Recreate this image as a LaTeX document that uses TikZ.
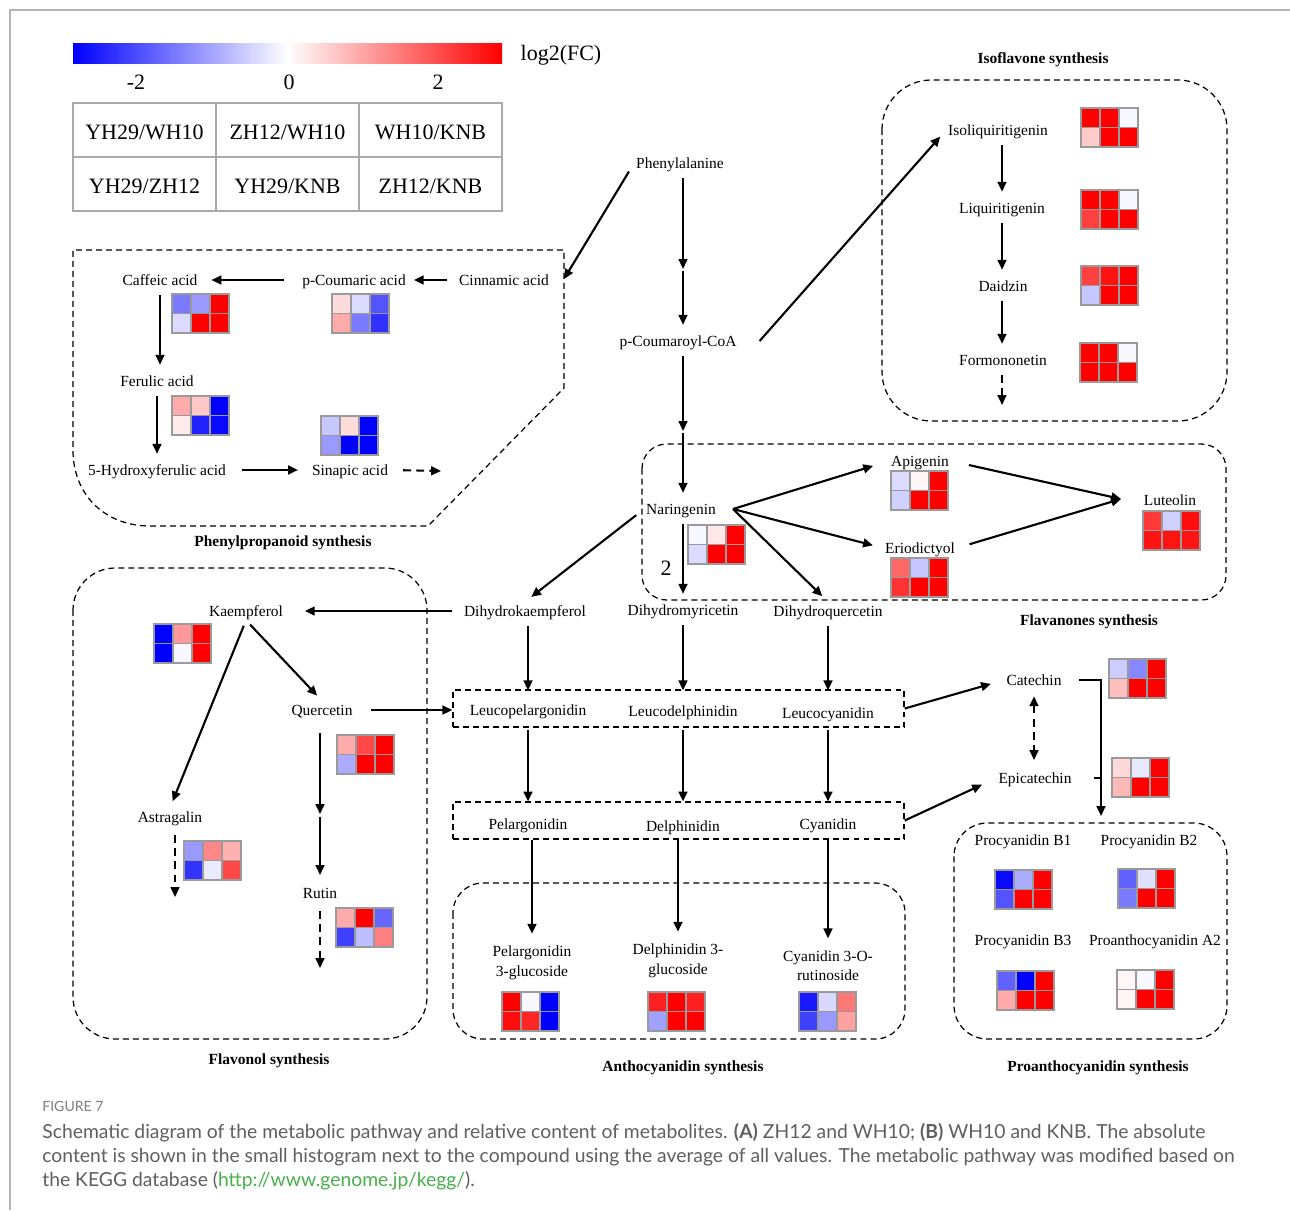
\documentclass[tikz,border=0pt]{standalone}
\usepackage{fontspec}
\setmainfont{Liberation Serif}
\newfontfamily\capfont{Lato}
\usetikzlibrary{arrows.meta, calc}

\definecolor{capgray}{HTML}{5F5F5F}
\definecolor{figgray}{HTML}{7E7E7E}
\definecolor{linkgreen}{HTML}{46B04A}
\definecolor{hmgray}{HTML}{9A9A9A}
\definecolor{leggray}{HTML}{AAAAAA}
\definecolor{framegray}{HTML}{B4B4B4}

\newcommand{\labsize}{\fontsize{8.8}{11.3}\selectfont}
\newcommand{\ttlsize}{\fontsize{8.8}{10.5}\selectfont\bfseries}
\newcommand{\legsize}{\fontsize{12.5}{14}\selectfont}

% 2x3 heat map, top-left corner #2; values >0 red, <0 blue (percent)
\newcommand{\hmap}[3]{%
  \coordinate (#1) at #2;
  \foreach \v [count=\i from 0] in {#3} {
    \pgfmathtruncatemacro{\hmx}{mod(\i,3)}
    \pgfmathtruncatemacro{\hmy}{\i/3}
    \ifnum\v<0 \def\hmcol{blue!\number-\v!white}\else\def\hmcol{red!\v!white}\fi
    \filldraw[fill=\hmcol, hmline] ($(#1)+(\hmx*19,\hmy*19.5)$) rectangle +(19,19.5);
  }%
}

\tikzset{
  lab/.style={font=\labsize, inner sep=1pt, text height=7.3pt, text depth=0.8pt},
  lab2/.style={font=\labsize, inner sep=1pt, align=center, yshift=-1pt},
  ttl/.style={font=\ttlsize, inner sep=1pt, yshift=-1.1pt},
  leg/.style={font=\legsize, inner sep=1pt, yshift=-1.1pt},
  arr/.style={line width=1.2pt, -{Triangle[length=5.6pt,width=5pt]},
    shorten <=3.4pt, shorten >=4pt},
  darr/.style={arr, dash pattern=on 4.5pt off 3pt},
  dbox/.style={line width=0.7pt, dash pattern=on 3.4pt off 2.3pt},
  hmline/.style={draw=hmgray, line width=0.8pt},
  captext/.style={font=\capfont\fontsize{11}{13}\selectfont, text=capgray,
    anchor=west, inner sep=0pt, yshift=-1.1pt},
}

\begin{document}
\begin{tikzpicture}[x=0.02cm, y=-0.02cm]
  \useasboundingbox (0,0) rectangle (1290,1210);
  \draw[framegray, line width=0.8pt] (10,1210) -- (10,10) -- (1290,10);

  % colour scale and legend table
  \shade[left color=blue, right color=red, middle color=white] (73,43) rectangle (502,63);
  \node[leg] (tm2) at (136,80) {-2};
  \node[leg] (t0) at (289,80) {0};
  \node[leg] (tp2) at (438,80) {2};
  \node[leg] (lfc) at (561,53) {log2(FC)};
  \draw[leggray, line width=1.1pt] (73,103) rectangle (502,211)
    (73,157) -- (502,157) (216,103) -- (216,211) (359,103) -- (359,211);
  \foreach \t [count=\i from 0] in {YH29/WH10, ZH12/WH10, WH10/KNB, YH29/ZH12, YH29/KNB, ZH12/KNB} {
    \pgfmathsetmacro{\lx}{144.5+143*mod(\i,3)}
    \pgfmathsetmacro{\ly}{130+54*int(\i/3)}
    \node[leg] (leg\i) at (\lx,\ly) {\t};
  }

  % dashed pathway boxes
  \draw[dbox] (150,526) -- (428,526) -- (564,388) -- (564,250) -- (73,250) -- (73,450)
    .. controls (73,495) and (105,526) .. (150,526);
  \draw[dbox, rounded corners=28pt] (882,80) rectangle (1227,421);
  \draw[dbox, rounded corners=14pt] (642,444) rectangle (1226,600);
  \draw[dbox, rounded corners=24pt] (73,568) rectangle (427,1039);
  \draw[dbox, rounded corners=17pt] (453,883) rectangle (905,1039);
  \draw[dbox, rounded corners=19pt] (954,823) rectangle (1227,1039);
  \node[dbox, draw, minimum width=256.8pt, minimum height=21pt, inner sep=0pt] (leu) at (678.5,708.5) {};
  \node[dbox, draw, minimum width=256.8pt, minimum height=21pt, inner sep=0pt] (ant) at (678.5,820.5) {};

  % box titles
  \node[ttl] (tiso) at (1043,58) {Isoflavone synthesis};
  \node[ttl] (tphe) at (283,541) {Phenylpropanoid synthesis};
  \node[ttl] (tfla) at (1089,620) {Flavanones synthesis};
  \node[ttl] (tflo) at (269,1059) {Flavonol synthesis};
  \node[ttl] (tant) at (683,1066) {Anthocyanidin synthesis};
  \node[ttl] (tpro) at (1098,1066) {Proanthocyanidin synthesis};

  % metabolites
  \node[lab] (phe) at (680,163) {Phenylalanine};
  \node[lab] (pcoa) at (678,341) {p-Coumaroyl-CoA};
  \node[lab] (cin) at (504,280) {Cinnamic acid};
  \node[lab] (pcou) at (354,280) {p-Coumaric acid};
  \node[lab] (caf) at (160,280) {Caffeic acid};
  \node[lab] (fer) at (157,381) {Ferulic acid};
  \node[lab] (hfer) at (157,470) {5-Hydroxyferulic acid};
  \node[lab] (sin) at (350,470) {Sinapic acid};
  \node[lab] (isl) at (998,130) {Isoliquiritigenin};
  \node[lab] (liq) at (1002,208) {Liquiritigenin};
  \node[lab] (dai) at (1003,286) {Daidzin};
  \node[lab] (frm) at (1003,360) {Formononetin};
  \node[lab] (nar) at (681,509) {Naringenin};
  \node[lab] (api) at (920,461) {Apigenin};
  \node[lab] (eri) at (920,548) {Eriodictyol};
  \node[lab] (lut) at (1170,500) {Luteolin};
  \node[lab] (dhk) at (525,611) {Dihydrokaempferol};
  \node[lab] (dhm) at (683,610) {Dihydromyricetin};
  \node[lab] (dhq) at (828,611) {Dihydroquercetin};
  \node[lab] (kae) at (246,611) {Kaempferol};
  \node[lab] (que) at (322,710) {Quercetin};
  \node[lab] (ast) at (170,817) {Astragalin};
  \node[lab] (rut) at (320,893) {Rutin};
  \node[lab] (lpel) at (528,710) {Leucopelargonidin};
  \node[lab] (ldel) at (683,711) {Leucodelphinidin};
  \node[lab] (lcya) at (828,713) {Leucocyanidin};
  \node[lab] (pel) at (528,824) {Pelargonidin};
  \node[lab] (del) at (683,826) {Delphinidin};
  \node[lab] (cya) at (828,824) {Cyanidin};
  \node[lab2] (pelg) at (532,961) {Pelargonidin\\3-glucoside};
  \node[lab2] (delg) at (678,959) {Delphinidin 3-\\glucoside};
  \node[lab2] (cyar) at (828,964) {Cyanidin 3-O-\\rutinoside};
  \node[lab] (cat) at (1034,680) {Catechin};
  \node[lab] (epi) at (1035,778) {Epicatechin};
  \node[lab] (pb1) at (1023,840) {Procyanidin B1};
  \node[lab] (pb2) at (1149,840) {Procyanidin B2};
  \node[lab] (pb3) at (1023,940) {Procyanidin B3};
  \node[lab] (pa2) at (1155,940) {Proanthocyanidin A2};
  \node[leg] (two) at (666,566) {2};

  % free arrow ends
  \coordinate (cinR) at (564,279);
  \coordinate (phemid) at (683,269);
  \coordinate (narmid) at (683,431);
  \coordinate (narR) at (733,509);
  \coordinate (lutL) at (1121,499);
  \coordinate (sinR) at (441,471);
  \coordinate (frmD) at (1002,405);
  \coordinate (rutmid) at (320,814);
  \coordinate (astD) at (175,897);
  \coordinate (rutD) at (320,968);
  \coordinate (proin) at (1101,816);

  % phenylpropanoid branch
  \draw[arr, shorten <=5.7pt, shorten >=0pt] (phe.west) -- (cinR);
  \draw[arr, shorten >=0pt] (phe.south -| phemid) -- (phemid);
  \draw[arr, shorten <=1pt] (phemid) -- (phemid |- pcoa.north);
  \draw[arr, shorten <=5.7pt, shorten >=3.4pt] (cin.west) -- (pcou.east);
  \draw[arr, shorten <=9pt, shorten >=6.8pt] (pcou.west) -- (caf.east);
  \draw[arr] (caf.south) -- (caf.south |- fer.north);
  \draw[arr] (fer.south) -- (fer.south |- hfer.north);
  \draw[arr, shorten <=8pt, shorten >=6.8pt] (hfer.east) -- (hfer.east -| sin.west);
  \draw[darr, shorten <=7.4pt, shorten >=0pt] (sin.east) -- (sinR);

  % isoflavones
  \draw[arr, shorten <=0pt, shorten >=5pt] ([xshift=12pt]pcoa.east) -- (isl.west);
  \draw[arr] (liq |- isl.south) -- (liq.north);
  \draw[arr] (liq.south) -- (liq.south |- dai.north);
  \draw[arr] (liq.south |- dai.south) -- (liq.south |- frm.north);
  \draw[darr, shorten >=0pt] (liq.south |- frm.south) -- (frmD);

  % flavanones
  \draw[arr, shorten >=0pt] (pcoa.south -| narmid) -- (narmid);
  \draw[arr, shorten <=1pt] (narmid) -- (narmid |- nar.north);
  \draw[arr, shorten <=0pt, shorten >=9.5pt] (narR) -- (api.west);
  \draw[arr, shorten <=0pt, shorten >=6pt] (narR) -- (eri.west);
  \draw[arr, shorten <=0pt, shorten >=4.5pt] (narR) -- (dhq.north);
  \draw[arr] (nar.south -| narmid) -- (narmid |- dhm.north);
  \draw[arr, shorten <=10.5pt, shorten >=0pt] (api.east) -- (lutL);
  \draw[arr, shorten <=7.5pt, shorten >=0pt] (eri.east) -- (lutL);
  \draw[arr, shorten <=5.7pt, shorten >=4.5pt] (nar.west) -- (dhk.north);

  % flavonols
  \draw[arr, shorten <=5.7pt, shorten >=11.3pt] (dhk.west) -- (kae.east);
  \draw[arr] (kae.south) -- (que.north);
  \draw[arr] (kae.south) -- (ast.north);
  \draw[arr, shorten <=9.6pt, shorten >=0pt] (que.east) -- (que.east -| leu.west);
  \draw[arr, shorten <=8pt, shorten >=0pt] (rutmid |- que.south) -- (rutmid);
  \draw[arr, shorten <=1.5pt, shorten >=5pt] (rutmid) -- (rutmid |- rut.north);
  \draw[darr, shorten <=5pt, shorten >=0pt] (astD |- ast.south) -- (astD);
  \draw[darr, shorten <=5pt, shorten >=0pt] (rut.south) -- (rutD);

  % anthocyanidins
  \foreach \a/\b in {dhk/lpel, dhm/ldel, dhq/lcya}
    \draw[arr, shorten >=-0.5pt] (\b |- \a.south) -- (\b |- leu.north);
  \foreach \b in {lpel, ldel, lcya}
    \draw[arr, shorten <=1.5pt, shorten >=0pt] (\b |- leu.south) -- (\b |- ant.north);
  \foreach \b in {pelg, delg, cyar}
    \draw[arr, shorten <=0.5pt, shorten >=5.7pt] (\b.north |- ant.south) -- (\b.north);

  % proanthocyanidins
  \draw[arr, shorten <=0pt, shorten >=8pt] (leu.east) -- (cat.west);
  \draw[arr, shorten <=0pt, shorten >=9pt] (ant.east) -- (epi.west);
  \draw[darr, {Triangle[length=5.6pt,width=5pt]}-{Triangle[length=5.6pt,width=5pt]},
    shorten <=4pt, shorten >=5pt] (cat.south) -- (cat.south |- epi.north);
  \draw[arr, shorten <=9pt, shorten >=0pt] (cat.east) -| (proin);
  \draw[line width=1.2pt, shorten <=11.5pt] (epi.east) -- (epi.east -| proin);

  % heat maps
  \hmap{hcaf}{(172,294)}{-52,-40,100,-14,100,100}
  \hmap{hpcou}{(332,294)}{14,-14,-67,33,-52,-81}
  \hmap{hfer}{(172,396)}{33,22,-100,8,-87,-96}
  \hmap{hsin}{(321,416)}{-22,14,-100,-40,-100,-100}
  \hmap{hisl}{(1081,108)}{100,100,-3,20,100,100}
  \hmap{hliq}{(1081,190)}{100,100,-3,75,100,100}
  \hmap{hdai}{(1081,266)}{75,93,100,-22,100,100}
  \hmap{hfrm}{(1080,343)}{100,100,-3,100,100,100}
  \hmap{hnar}{(688,525)}{-3,9,100,-14,100,100}
  \hmap{hapi}{(891,471)}{-14,3,100,-18,100,100}
  \hmap{heri}{(891,558)}{60,-22,100,80,100,100}
  \hmap{hlut}{(1143,511)}{78,-18,95,92,92,92}
  \hmap{hkae}{(154,624)}{-100,40,100,-100,-3,100}
  \hmap{hque}{(337,735)}{33,72,100,-33,100,100}
  \hmap{hast}{(184,841)}{-40,47,31,-80,-8,72}
  \hmap{hrut}{(336,908)}{33,100,-60,-75,-25,50}
  \hmap{hpelg}{(502,992)}{100,-3,-100,95,85,-100}
  \hmap{hdelg}{(648,992)}{87,100,87,-37,100,100}
  \hmap{hcyar}{(799,992)}{-90,-15,53,-75,-40,37}
  \hmap{hcat}{(1109,659)}{-20,-47,100,25,100,100}
  \hmap{hepi}{(1112,758)}{15,-9,100,28,100,100}
  \hmap{hpb1}{(995,870)}{-96,-33,100,-67,100,100}
  \hmap{hpb2}{(1118,869)}{-62,-12,100,-52,100,100}
  \hmap{hpb3}{(997,971)}{-62,-100,100,33,100,100}
  \hmap{hpa2}{(1117,970)}{3,-3,100,4,100,100}

  % caption
  \node[captext, font=\capfont\fontsize{8}{10}\selectfont, text=figgray] (fig) at (42,1105) {FIGURE 7};
  \node[captext] (cap1) at (42,1131) {Schematic diagram of the metabolic pathway and relative content of metabolites. \textbf{(A)} ZH12 and WH10; \textbf{(B)} WH10 and KNB. The absolute};
  \node[captext] (cap2) at (42,1155) {content is shown in the small histogram next to the compound using the average of all values. The metabolic pathway was modified based on};
  \node[captext] (cap3) at (42,1179) {the KEGG database (\textcolor{linkgreen}{http://www.genome.jp/kegg/}).};
\end{tikzpicture}
\end{document}
